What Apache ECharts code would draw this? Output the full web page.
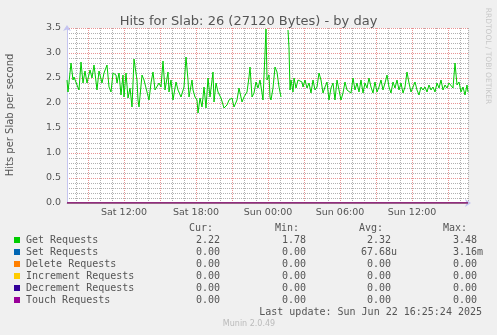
<!DOCTYPE html>
<html>
<head>
  <meta charset="utf-8">
  <title>Hits for Slab: 26 (27120 Bytes) - by day</title>
  <script src="https://cdn.jsdelivr.net/npm/echarts@6/dist/echarts.min.js"></script>
</head>
<body style="margin: 0; background: #f0f0f0">
  <div id="main" style="width: 497px; height: 335px"></div>
  <script>
    // sample times in minutes since Sat 00:00, values in hits/s
    const getTimes = [
      435, 440, 455, 465, 470, 485, 495, 505, 515, 525,
      535, 550, 560, 570, 585, 595, 610, 620, 635, 645,
      655, 665, 680, 685, 695, 705, 715, 720, 730, 740,
      750, 760, 770, 785, 790, 795, 810, 820, 835, 845,
      855, 865, 875, 885, 895, 905, 915, 925, 940, 945,
      955, 965, 980, 990, 1005, 1015, 1020, 1030, 1040, 1045,
      1060, 1065, 1075, 1085, 1090, 1100, 1110, 1120, 1130, 1140,
      1150, 1165, 1170, 1180, 1190, 1205, 1215, 1220, 1235, 1245,
      1260, 1270, 1285, 1295, 1310, 1320, 1335, 1345, 1350, 1360,
      1370, 1380, 1390, 1400, 1410, 1415, 1430, 1435, 1445, 1450,
      1455, 1465, 1475, 1485, 1495, 1505, 1520, 1540, 1545, 1550,
      1555, 1565, 1570, 1580, 1590, 1600, 1610, 1615, 1625, 1635,
      1645, 1655, 1665, 1675, 1685, 1695, 1705, 1715, 1725, 1735,
      1745, 1755, 1765, 1775, 1785, 1795, 1805, 1815, 1825, 1835,
      1845, 1855, 1865, 1875, 1885, 1895, 1905, 1915, 1925, 1935,
      1945, 1955, 1965, 1975, 1985, 1995, 2005, 2015, 2025, 2035,
      2045, 2055, 2065, 2075, 2085, 2095, 2105, 2115, 2125, 2135,
      2145, 2155, 2165, 2175, 2185, 2195, 2205, 2215, 2225, 2235,
      2245, 2255, 2265, 2275, 2285, 2295, 2305, 2315, 2325, 2335,
      2345, 2355, 2365, 2375, 2385, 2395, 2405, 2415, 2425, 2435,
      2440
    ];
    const getValues = [
      2.46, 2.22, 2.80, 2.46, 2.52, 2.36, 2.26, 2.82, 2.40, 2.64,
      2.40, 2.66, 2.50, 2.76, 2.26, 2.64, 2.40, 2.60, 2.76, 2.32,
      2.22, 2.60, 2.56, 2.40, 2.60, 2.16, 2.56, 2.12, 2.60, 2.10,
      2.30, 1.92, 2.88, 2.46, 2.06, 1.92, 2.56, 2.46, 2.22, 2.06,
      2.40, 2.62, 2.26, 2.22, 2.40, 2.32, 2.84, 2.26, 2.62, 2.22,
      2.46, 2.06, 2.42, 2.26, 2.12, 2.10, 2.32, 2.92, 2.46, 2.12,
      2.46, 2.26, 2.12, 2.06, 1.80, 2.10, 1.92, 2.32, 1.90, 2.50,
      2.12, 2.62, 2.02, 2.40, 2.22, 2.10, 2.06, 1.90, 1.96, 2.06,
      2.10, 1.92, 2.06, 2.30, 2.02, 2.12, 2.22, 2.52, 2.72, 2.12,
      2.20, 2.42, 2.30, 2.46, 2.20, 2.06, 3.48, 2.46, 2.56, 2.12,
      2.06, 2.30, 2.72, 2.62, 2.32, 2.12, null, 3.46, 3.10, 2.26,
      2.46, 2.22, 2.50, 2.30, 2.46, 2.50, 2.42, 2.32, 2.46, 2.30,
      2.40, 2.20, 2.46, 2.26, 2.32, 2.60, 2.46, 2.20, 2.32, 2.42,
      2.06, 2.30, 2.40, 2.06, 2.46, 2.26, 2.06, 2.20, 2.42, 2.26,
      2.30, 2.20, 2.50, 2.26, 2.40, 2.22, 2.46, 2.20, 2.40, 2.30,
      2.50, 2.32, 2.20, 2.42, 2.22, 2.32, 2.46, 2.26, 2.40, 2.56,
      2.32, 2.20, 2.42, 2.30, 2.46, 2.26, 2.40, 2.20, 2.32, 2.62,
      2.40, 2.22, 2.32, 2.42, 2.26, 2.16, 2.32, 2.26, 2.32, 2.22,
      2.36, 2.26, 2.32, 2.22, 2.40, 2.30, 2.46, 2.26, 2.36, 2.30,
      2.40, 2.42, 2.30, 2.80, 2.36, 2.42, 2.22, 2.32, 2.16, 2.36,
      2.22
    ];
    // the other counters stay at zero over the whole window
    const zeroTimes = [435, 2440];
    const zeroValues = [0, 0];

    const seriesNames = ['Get Requests', 'Set Requests', 'Delete Requests', 'Increment Requests', 'Decrement Requests', 'Touch Requests'];
    const seriesColors = ['#00cc00', '#0066b3', '#ff8000', '#ffcc00', '#330099', '#990099'];
    const curVals = ['2.22', '0.00', '0.00', '0.00', '0.00', '0.00'];
    const minVals = ['1.78', '0.00', '0.00', '0.00', '0.00', '0.00'];
    const avgVals = ['2.32', '67.68u', '0.00', '0.00', '0.00', '0.00'];
    const maxVals = ['3.48', '3.16m', '0.00', '0.00', '0.00', '0.00'];

    const tickHours = [12, 18, 24, 30, 36];
    const tickLabels = ['Sat 12:00', 'Sat 18:00', 'Sun 00:00', 'Sun 06:00', 'Sun 12:00'];

    const startH = getTimes[0] / 60;
    const endH = getTimes[getTimes.length - 1] / 60;

    const axisBlue = '#c4c4f0';
    const majorGrid = '#e89494';
    const minorGrid = '#b0b0b0';
    const labelFont = 'DejaVu Sans';
    const mono = '"DejaVu Sans Mono", monospace';

    const chart = echarts.init(document.getElementById('main'));

    const lines = seriesNames.map((name, i) => ({
      name,
      type: 'line',
      xAxisIndex: 0,
      yAxisIndex: 0,
      symbol: 'none',
      connectNulls: false,
      lineStyle: { width: 1, color: seriesColors[i] },
      data: i === 0
        ? getTimes.map((m, k) => [m / 60, getValues[k]])
        : zeroTimes.map((m, k) => [m / 60, zeroValues[k]])
    }));

    // legend table (munin style)
    const graphic = [];
    const rowY = 240, rowStep = 12, headY = 228;
    const pad = v => /[a-z]$/.test(v) ? v : v + ' ';
    const txt = (text, x, y, align) => ({
      type: 'text', x, y,
      style: { text, fill: '#555', font: '10px ' + mono, align, verticalAlign: 'middle', textAlign: align, textVerticalAlign: 'middle' }
    });
    graphic.push(txt('Cur:', 213, headY, 'right'));
    graphic.push(txt('Min:', 299, headY, 'right'));
    graphic.push(txt('Avg:', 383, headY, 'right'));
    graphic.push(txt('Max:', 467, headY, 'right'));
    seriesNames.forEach((name, i) => {
      const y = rowY + i * rowStep;
      graphic.push({ type: 'rect', shape: { x: 14, y: y - 3, width: 6, height: 6 }, style: { fill: seriesColors[i] } });
      graphic.push(txt(name, 26, y, 'left'));
      graphic.push(txt(pad(curVals[i]), 226, y, 'right'));
      graphic.push(txt(pad(minVals[i]), 312, y, 'right'));
      graphic.push(txt(pad(avgVals[i]), 397, y, 'right'));
      graphic.push(txt(pad(maxVals[i]), 483, y, 'right'));
    });
    graphic.push(txt('Last update: Sun Jun 22 16:25:24 2025', 482, rowY + 6 * rowStep, 'right'));
    graphic.push({
      type: 'text', x: 10, y: 115, rotation: Math.PI / 2,
      style: { text: 'Hits per Slab per second', fill: '#555', font: '10px ' + labelFont, align: 'center', verticalAlign: 'middle', textAlign: 'center', textVerticalAlign: 'middle' }
    });
    graphic.push({
      type: 'text', x: 249, y: 324,
      style: { text: 'Munin 2.0.49', fill: '#bbb', font: '8px ' + labelFont, align: 'center', verticalAlign: 'middle', textAlign: 'center', textVerticalAlign: 'middle' }
    });
    graphic.push({
      type: 'text', x: 488, y: 56, rotation: -Math.PI / 2,
      style: { text: 'RRDTOOL / TOBI OETIKER', fill: '#c8c8c8', font: '7.5px ' + labelFont, align: 'center', verticalAlign: 'middle', textAlign: 'center', textVerticalAlign: 'middle' }
    });

    // grid 0 holds the data; grids 1 and 2 share its scale (12 px per hour)
    // and only draw the hourly / three-hourly vertical grid lines
    const gridBox = { right: 29, top: 28, bottom: 132 };

    chart.setOption({
      backgroundColor: '#f0f0f0',
      animation: false,
      title: {
        text: 'Hits for Slab: 26 (27120 Bytes) - by day',
        left: 'center',
        top: 10,
        textStyle: { color: '#555', fontSize: 13, fontWeight: 'normal', fontFamily: labelFont }
      },
      grid: [
        Object.assign({ left: 67, show: true, backgroundColor: '#fff', borderWidth: 0 }, gridBox),
        Object.assign({ left: 64, show: false }, gridBox),
        Object.assign({ left: 88, show: false }, gridBox)
      ],
      xAxis: [
        {
          type: 'value', gridIndex: 0, min: startH, max: endH,
          axisLine: { show: true, lineStyle: { color: axisBlue }, symbol: ['none', 'arrow'], symbolSize: [6, 6], symbolOffset: [0, 3] },
          axisTick: { show: false }, axisLabel: { show: false }, splitLine: { show: false }
        },
        {
          type: 'value', gridIndex: 1, min: 7, max: endH, interval: 1,
          axisLine: { show: false }, axisTick: { show: false },
          axisLabel: {
            color: '#555', fontSize: 9.5, fontFamily: labelFont, margin: 5,
            formatter: v => { const i = tickHours.indexOf(Math.round(v)); return (i >= 0 && Math.abs(v - Math.round(v)) < 1e-6) ? tickLabels[i] : ''; }
          },
          splitLine: { show: true, showMinLine: false, lineStyle: { color: minorGrid, type: [1, 1], width: 1 } }
        },
        {
          type: 'value', gridIndex: 2, min: 9, max: endH, interval: 3,
          axisLine: { show: false }, axisTick: { show: false }, axisLabel: { show: false },
          splitLine: { show: true, showMaxLine: false, lineStyle: { color: majorGrid, type: [1, 1], width: 1 } }
        }
      ],
      yAxis: [
        {
          type: 'value', gridIndex: 0, min: 0, max: 3.5, interval: 0.5,
          axisLine: { show: true, lineStyle: { color: axisBlue }, symbol: ['none', 'arrow'], symbolSize: [6, 6], symbolOffset: [0, 3] },
          axisTick: { show: false },
          minorTick: { show: false, splitNumber: 5 },
          axisLabel: {
            color: '#555', fontSize: 9.5, fontFamily: labelFont, margin: 6,
            formatter: v => v.toFixed(1)
          },
          splitLine: { show: true, lineStyle: { color: majorGrid, type: [1, 1], width: 1 } },
          minorSplitLine: { show: true, lineStyle: { color: minorGrid, type: [1, 1], width: 1 } }
        },
        { type: 'value', gridIndex: 1, min: 0, max: 3.5, show: false },
        { type: 'value', gridIndex: 2, min: 0, max: 3.5, show: false }
      ],
      series: lines,
      graphic: graphic
    });
  </script>
</body>
</html>
